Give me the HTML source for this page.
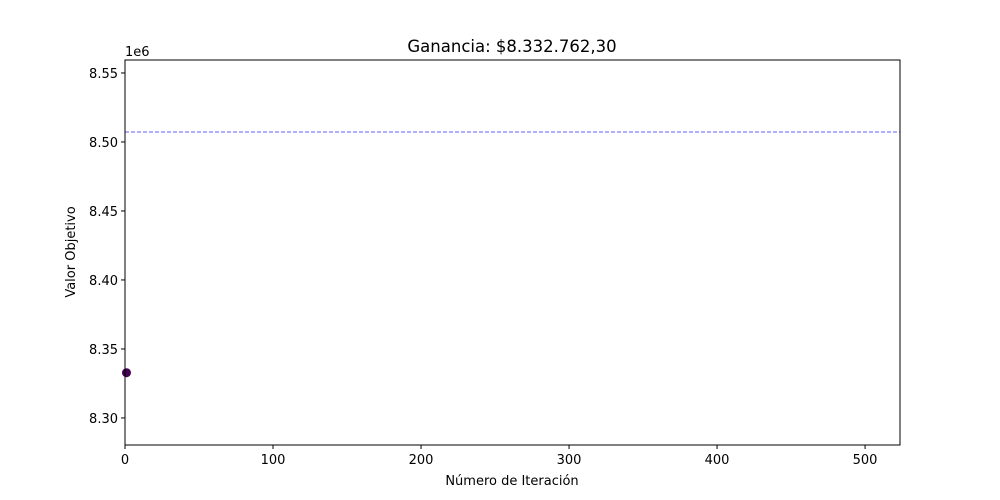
<!DOCTYPE html>
<html><head><meta charset="utf-8"><style>body{margin:0;background:#fff}svg{display:block;font-family:"DejaVu Sans","Liberation Sans",sans-serif}</style></head>
<body>
<svg id="chart" width="1000" height="500"></svg>
<script>
const iterations=[1];
const objectiveValues=[8332762.30];
const bestValue=[8507200];
const xTicks=[0,100,200,300,400,500];
const yTicks=[8.30,8.35,8.40,8.45,8.50,8.55];
const L=125,R=900,T=60,B=445;
const xMin=0,xMax=523.6,yMin=8.2804,yMax=8.5594;
const sx=v=>L+(v-xMin)/(xMax-xMin)*(R-L);
const sy=v=>B-(v/1e6-yMin)/(yMax-yMin)*(B-T);
const svg=document.getElementById('chart');
const NS='http://www.w3.org/2000/svg';
function mk(tag,attrs,parent){const e=document.createElementNS(NS,tag);for(const k in attrs)e.setAttribute(k,attrs[k]);(parent||svg).appendChild(e);return e;}
function txt(s,attrs){const e=mk('text',attrs);e.textContent=s;return e;}
let t=txt('Ganancia: $8.332.762,30',{x:512,y:52,'text-anchor':'middle','font-size':16.5});


bestValue.forEach(v=>{const l=mk('line',{x1:L,x2:R,y1:sy(v),y2:sy(v),stroke:'#7f7fff','stroke-width':1.2,'stroke-dasharray':'4,2'});

});
iterations.forEach((it,i)=>{const c=mk('circle',{cx:sx(it),cy:sy(objectiveValues[i]),r:4.5,fill:'#440154'});

});
const fr=mk('rect',{x:L,y:T,width:R-L,height:B-T,fill:'none',stroke:'#000','stroke-width':1});


xTicks.forEach(v=>{const x=sx(v);mk('line',{x1:x,x2:x,y1:B,y2:B+4,stroke:'#000'});
const e=txt(String(v),{x:x,y:B+19,'text-anchor':'middle','font-size':13});

});
yTicks.forEach(v=>{const y=sy(v*1e6);mk('line',{x1:L-4,x2:L,y1:y,y2:y,stroke:'#000'});
const e=txt(v.toFixed(2),{x:L-7,y:y+5,'text-anchor':'end','font-size':13});

});
t=txt('1e6',{x:125,y:56,'font-size':13});


t=txt('Número de Iteración',{x:512,y:485,'text-anchor':'middle','font-size':13});


t=txt('Valor Objetivo',{x:0,y:0,'text-anchor':'middle','font-size':13,transform:'translate(75,252) rotate(-90)'});


</script>
</body></html>
